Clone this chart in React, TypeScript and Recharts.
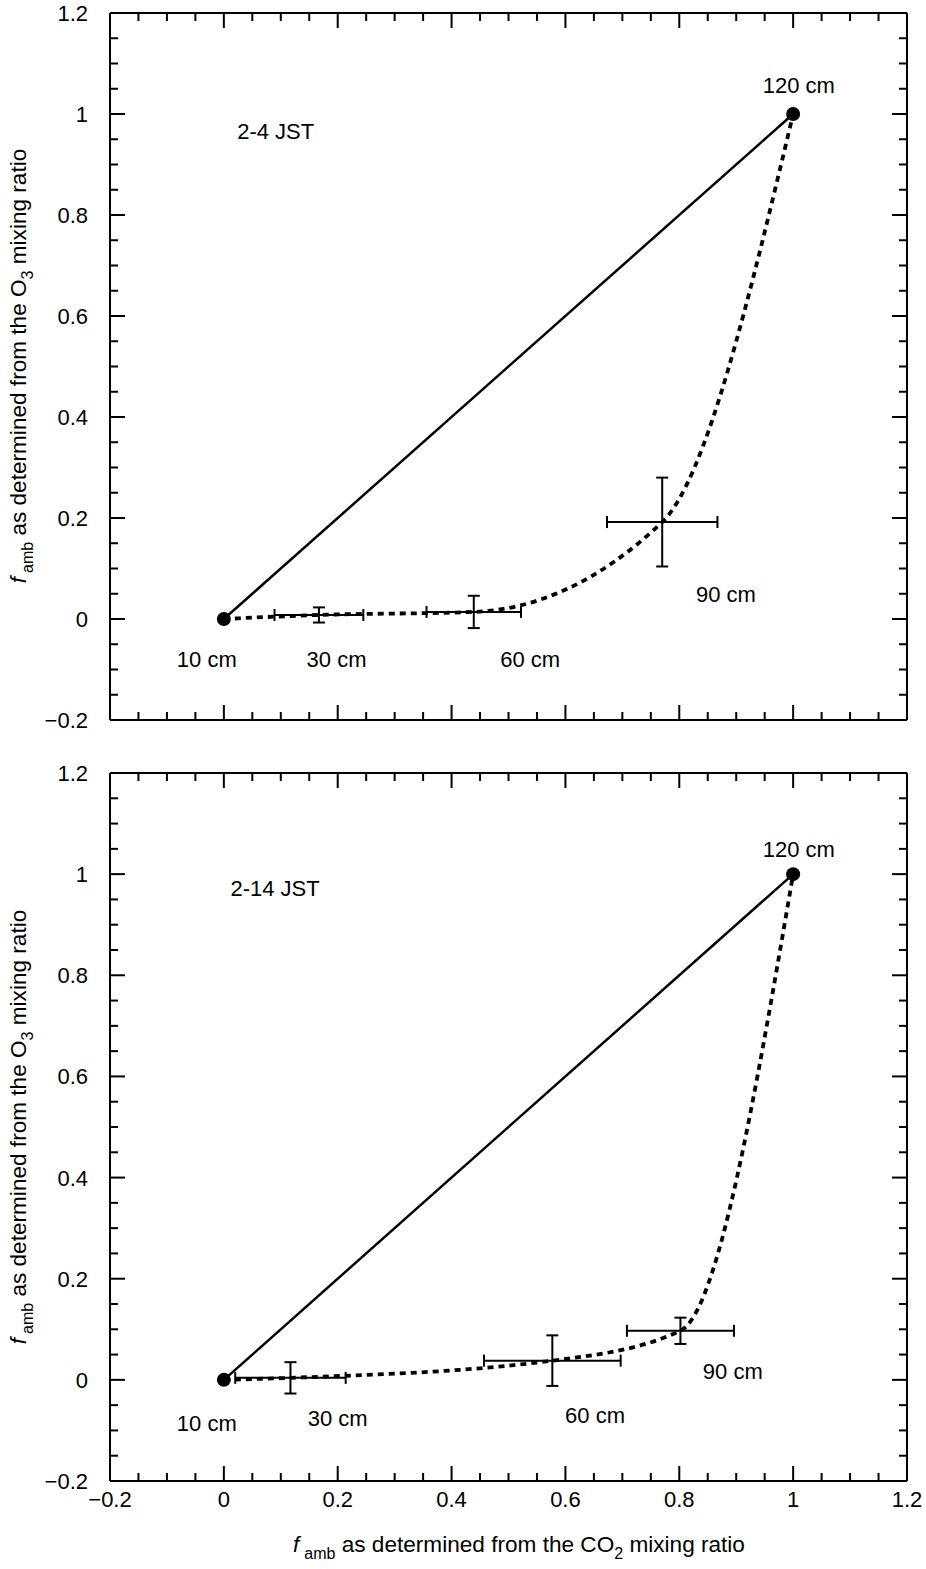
import React from "react";
import { ComposedChart, ErrorBar, Line, Scatter, XAxis, YAxis } from "recharts";

// tick positions, major every 0.2 and minor every 0.05
const axisTicks = [
  -0.2, -0.15, -0.1, -0.05, 0, 0.05, 0.1, 0.15, 0.2, 0.25, 0.3, 0.35, 0.4, 0.45, 0.5,
  0.55, 0.6, 0.65, 0.7, 0.75, 0.8, 0.85, 0.9, 0.95, 1, 1.05, 1.1, 1.15, 1.2,
];

// 10 cm and 120 cm reference heights
const endPoints = [
  { x: 0, y: 0 },
  { x: 1, y: 1 },
];

// 2-4 JST: 30, 60, 90 cm with x / y errors
const depthsNight = [
  { x: 0.167, y: 0.008, ex: 0.078, ey: 0.015 },
  { x: 0.439, y: 0.014, ex: 0.083, ey: 0.032 },
  { x: 0.77, y: 0.192, ex: 0.097, ey: 0.088 },
];

// 2-14 JST
const depthsDay = [
  { x: 0.117, y: 0.004, ex: 0.097, ey: 0.031 },
  { x: 0.577, y: 0.038, ex: 0.12, ey: 0.05 },
  { x: 0.802, y: 0.097, ex: 0.094, ey: 0.026 },
];

const notesNight = [
  { x: -0.03, y: -0.079, text: "10 cm" },
  { x: 0.198, y: -0.079, text: "30 cm" },
  { x: 0.538, y: -0.079, text: "60 cm" },
  { x: 0.882, y: 0.05, text: "90 cm" },
  { x: 1.01, y: 1.057, text: "120 cm" },
  { x: 0.091, y: 0.966, text: "2-4 JST" },
];

const notesDay = [
  { x: -0.03, y: -0.085, text: "10 cm" },
  { x: 0.2, y: -0.075, text: "30 cm" },
  { x: 0.652, y: -0.069, text: "60 cm" },
  { x: 0.894, y: 0.018, text: "90 cm" },
  { x: 1.01, y: 1.05, text: "120 cm" },
  { x: 0.09, y: 0.972, text: "2-14 JST" },
];

const FONT = '"Liberation Sans", Arial, Helvetica, sans-serif';
const FS = 22;
const TITLE = 22.6;
const SUB = 16;
const MAJOR = 15;
const MINOR = 8;

const isMajor = (v: number) => Math.abs(v * 5 - Math.round(v * 5)) < 1e-6;
const fmt = (v: number) => {
  const r = Math.round(v * 100) / 100;
  return r < 0 ? "\u2212" + String(-r) : String(r);
};

function BottomTick(props: any) {
  const { x, y, payload, showLabel } = props;
  const major = isMajor(payload.value);
  return (
    <g>
      <line x1={x} x2={x} y1={y} y2={y - (major ? MAJOR : MINOR)} stroke="#000" strokeWidth={2} />
      {showLabel && major && (
        <text x={x} y={y + 26} textAnchor="middle" fontSize={FS} fontFamily={FONT} fill="#000">
          {fmt(payload.value)}
        </text>
      )}
    </g>
  );
}

function TopTick(props: any) {
  const { x, y, payload } = props;
  const major = isMajor(payload.value);
  return <line x1={x} x2={x} y1={y} y2={y + (major ? MAJOR : MINOR)} stroke="#000" strokeWidth={2} />;
}

function LeftTick(props: any) {
  const { x, y, payload } = props;
  const major = isMajor(payload.value);
  return (
    <g>
      <line x1={x} x2={x + (major ? MAJOR : MINOR)} y1={y} y2={y} stroke="#000" strokeWidth={2} />
      {major && (
        <text x={x - 22} y={y + 8} textAnchor="end" fontSize={FS} fontFamily={FONT} fill="#000">
          {fmt(payload.value)}
        </text>
      )}
    </g>
  );
}

function RightTick(props: any) {
  const { x, y, payload } = props;
  const major = isMajor(payload.value);
  return <line x1={x} x2={x - (major ? MAJOR : MINOR)} y1={y} y2={y} stroke="#000" strokeWidth={2} />;
}

function YTitle({ cy }: { cy: number }) {
  return (
    <text
      transform={`translate(26 ${cy}) rotate(-90)`}
      textAnchor="middle"
      fontSize={TITLE}
      fontFamily={FONT}
      fill="#000"
    >
      <tspan fontStyle="italic">f</tspan>
      <tspan fontSize={SUB} dx={4} dy={7}>amb</tspan>
      <tspan dy={-7}> as determined from the O</tspan>
      <tspan fontSize={SUB} dy={7}>3</tspan>
      <tspan dy={-7}> mixing ratio</tspan>
    </text>
  );
}

function XTitle() {
  return (
    <text x={519} y={812} textAnchor="middle" fontSize={TITLE} fontFamily={FONT} fill="#000">
      <tspan fontStyle="italic">f</tspan>
      <tspan fontSize={SUB} dx={5} dy={7}>amb</tspan>
      <tspan dy={-7}> as determined from the CO</tspan>
      <tspan fontSize={SUB} dy={7}>2</tspan>
      <tspan dy={-7}> mixing ratio</tspan>
    </text>
  );
}

const Dot = (p: any) => <circle cx={p.cx} cy={p.cy} r={7} fill="#000" />;
const NoMark = () => <g />;
const Note = (p: any) => (
  <text x={p.cx} y={p.cy + 8} textAnchor="middle" fontSize={FS} fontFamily={FONT} fill="#000">
    {p.payload.text}
  </text>
);

function Panel({
  height,
  margin,
  depths,
  notes,
  bottom,
  yTitleCy,
}: {
  height: number;
  margin: { top: number; right: number; bottom: number; left: number };
  depths: { x: number; y: number; ex: number; ey: number }[];
  notes: { x: number; y: number; text: string }[];
  bottom: boolean;
  yTitleCy: number;
}) {
  const curve = [endPoints[0], ...depths.map((d) => ({ x: d.x, y: d.y })), endPoints[1]];
  const axisLine = { stroke: "#000", strokeWidth: 2 };
  const common = {
    type: "number" as const,
    domain: [-0.2, 1.2],
    allowDataOverflow: true,
    ticks: axisTicks,
    interval: 0,
    tickSize: 0,
    tickMargin: 0,
    axisLine,
    tickLine: false,
  };
  return (
    <ComposedChart width={926} height={height} margin={margin}>
      <XAxis
        {...common}
        dataKey="x"
        height={bottom ? 88 : 1}
        tick={(p: any) => <BottomTick {...p} showLabel={bottom} />}
        label={bottom ? () => <XTitle /> : undefined}
      />
      <XAxis
        {...common}
        xAxisId="top"
        orientation="top"
        dataKey="x"
        height={1}
        tick={(p: any) => <TopTick {...p} />}
      />
      <YAxis
        {...common}
        dataKey="y"
        width={60}
        tick={(p: any) => <LeftTick {...p} />}
        label={() => <YTitle cy={yTitleCy} />}
      />
      <YAxis
        {...common}
        yAxisId="right"
        orientation="right"
        dataKey="y"
        width={1}
        tick={(p: any) => <RightTick {...p} />}
      />
      <Line
        data={endPoints}
        dataKey="y"
        type="linear"
        stroke="#000"
        strokeWidth={2.5}
        dot={false}
        activeDot={false}
        isAnimationActive={false}
      />
      <Line
        data={curve}
        dataKey="y"
        type="monotone"
        stroke="#000"
        strokeWidth={3.8}
        strokeDasharray="6 5"
        dot={false}
        activeDot={false}
        isAnimationActive={false}
      />
      <Scatter data={depths} dataKey="y" shape={NoMark} isAnimationActive={false}>
        <ErrorBar dataKey="ex" direction="x" width={6} stroke="#000" strokeWidth={2} isAnimationActive={false} />
        <ErrorBar dataKey="ey" direction="y" width={6} stroke="#000" strokeWidth={2} isAnimationActive={false} />
      </Scatter>
      <Scatter data={endPoints} dataKey="y" shape={Dot} isAnimationActive={false} />
      <Scatter data={notes} dataKey="y" shape={Note} isAnimationActive={false} />
      <Scatter
        data={endPoints}
        dataKey="y"
        xAxisId="top"
        yAxisId="right"
        shape={NoMark}
        isAnimationActive={false}
      />
    </ComposedChart>
  );
}

export default function App() {
  return (
    <div
      style={{
        position: "absolute",
        left: 0,
        top: 0,
        width: 926,
        height: 1569,
        background: "#fff",
        fontFamily: FONT,
      }}
    >
      <div style={{ position: "absolute", left: 0, top: 0 }}>
        <Panel
          height={740}
          margin={{ top: 12, right: 18, bottom: 19, left: 50 }}
          depths={depthsNight}
          notes={notesNight}
          bottom={false}
          yTitleCy={366}
        />
      </div>
      <div style={{ position: "absolute", left: 0, top: 740 }}>
        <Panel
          height={829}
          margin={{ top: 32, right: 18, bottom: 0, left: 50 }}
          depths={depthsDay}
          notes={notesDay}
          bottom
          yTitleCy={387}
        />
      </div>
    </div>
  );
}
